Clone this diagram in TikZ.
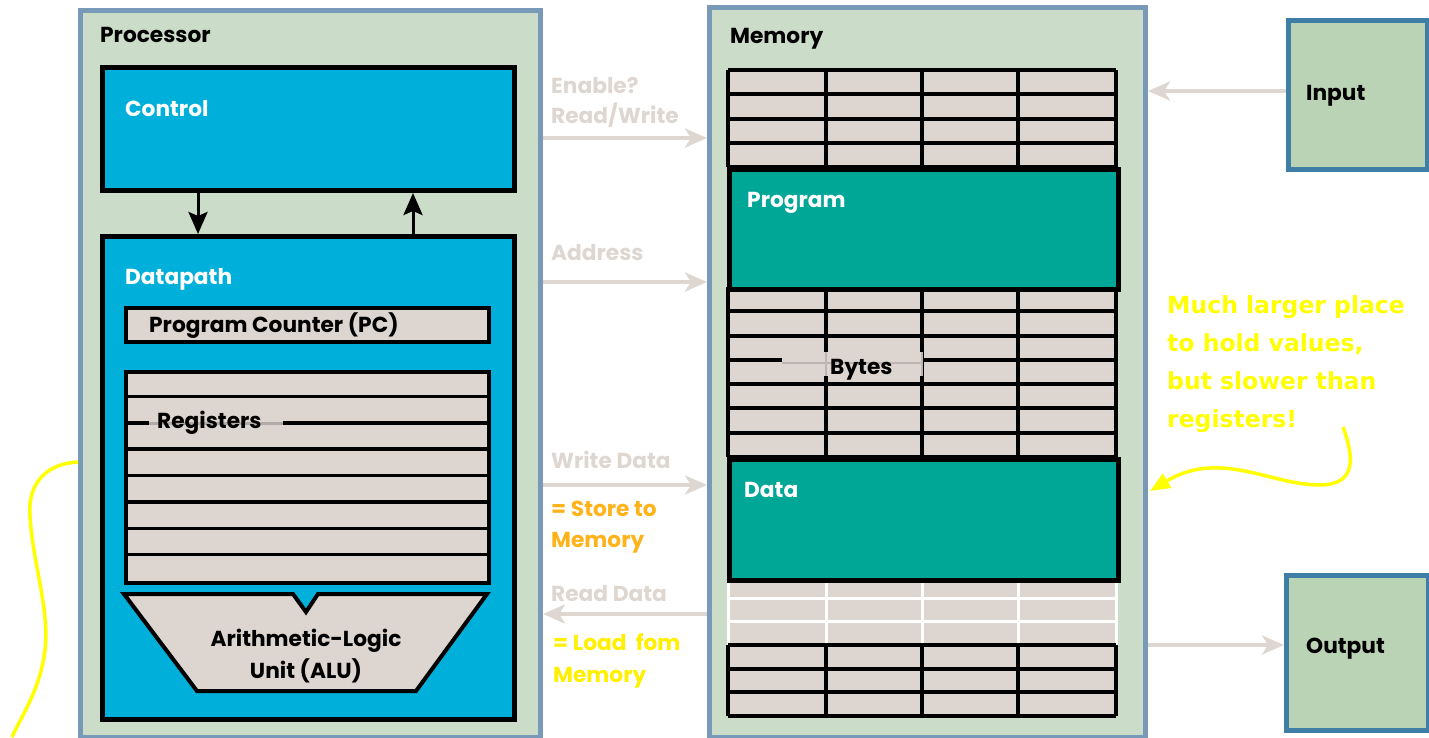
\documentclass[tikz,border=0pt]{standalone}
\usepackage{fontspec}
\setmainfont{Poppins}
\newfontfamily\notefont{DejaVu Sans}
\usetikzlibrary{arrows.meta}
\definecolor{procfill}{HTML}{CBDCC8}
\definecolor{procedge}{HTML}{7899B8}
\definecolor{ctlblue}{HTML}{00B0DA}
\definecolor{cell}{HTML}{DDD5D0}
\definecolor{teal}{HTML}{00A696}
\definecolor{iofill}{HTML}{BAD3B5}
\definecolor{ioedge}{HTML}{3F7FA6}
\definecolor{sig}{HTML}{DDD6D1}
\definecolor{storeorange}{HTML}{FFB31A}
\definecolor{loadyellow}{HTML}{FFF000}
\definecolor{noteyellow}{HTML}{FFFF00}
\newcommand\memrows[3]{%
  \fill[cell] (728,#1) rectangle (1116,#2);
  \foreach \i in {0,...,#3}
    \draw[gridline] (728,{#1+(#2-#1)*\i/#3}) -- (1116,{#1+(#2-#1)*\i/#3});
  \foreach \x in {728,826,922,1018,1116}
    \draw[gridline] (\x,#1) -- (\x,#2);
}
\begin{document}
\begin{tikzpicture}[x=1pt,y=-1pt,
  txt/.style={font=\fontsize{21.7}{25}\selectfont\bfseries, inner sep=0pt, anchor=base west},
  unit/.style={draw=procedge, fill=procfill, line width=5pt, anchor=north west, inner sep=0pt},
  blue box/.style={draw=black, fill=ctlblue, line width=5pt, anchor=north west, inner sep=0pt},
  prog box/.style={draw=black, fill=teal, line width=5pt, anchor=north west, inner sep=0pt},
  reg box/.style={draw=black, fill=cell, line width=3.5pt, anchor=north west, inner sep=0pt},
  io box/.style={draw=ioedge, fill=iofill, line width=5pt, anchor=north west, inner sep=0pt},
  gridline/.style={draw=black, line width=4pt},
  whiteline/.style={draw=white, line width=3pt},
  ctlarrow/.style={draw=black, line width=3pt, -{Stealth[length=22pt,width=19pt,inset=4pt]}},
  sigarrow/.style={draw=sig, line width=4pt, -{Stealth[length=22pt,width=19pt,inset=6pt]}},
  note/.style={draw=noteyellow, line width=3.5pt},
]
\useasboundingbox (0,0) rectangle (1429,737);

% ---------- processor ----------
\node[unit, minimum width=460, minimum height=727] (proc) at (78,8) {};
\node[txt] (proct) at (100,42) {Processor};

\node[blue box, minimum width=412, minimum height=123] (ctrl) at (100,65) {};
\node[txt, text=white] (ctrlt) at (125,116) {Control};

\node[blue box, minimum width=412, minimum height=483] (dp) at (100,234) {};
\node[txt, text=white] (dpt) at (125,284) {Datapath};

\draw[ctlarrow] ([xshift=98pt]ctrl.south west) -- ([xshift=98pt]dp.north west);
\draw[ctlarrow] ([xshift=313pt]dp.north west) -- ([xshift=313pt]ctrl.south west);

\node[reg box, minimum width=363, minimum height=34] (pc) at (124,306) {};
\node[txt] (pct) at (149,332) {Program Counter (PC)};

\node[reg box, minimum width=363, minimum height=211] (regs) at (124,370) {};
\foreach \k in {1,...,7}
  \draw[black, line width=3.5pt] (124,{370+26.375*\k}) -- (487,{370+26.375*\k});
\fill[cell] (149,419) rectangle (283,427);
\draw[cell!80!black, line width=3pt] (149,423) -- (283,423);
\node[txt] (regt) at (157,428) {Registers};

\draw[draw=black, fill=cell, line width=4pt, line join=miter]
  (124,594) -- (293,594) -- (306,612) -- (318,594) -- (487,594)
  -- (416,691) -- (197,691) -- cycle;
\node[txt, anchor=base] (alu1) at (306,646) {Arithmetic-Logic};
\node[txt, anchor=base] (alu2) at (306,678) {Unit (ALU)};

% ---------- memory ----------
\node[unit, minimum width=436, minimum height=730] (mem) at (707,5) {};
\node[txt] (memt) at (730,43) {Memory};

\memrows{70}{167}{4}
\memrows{287}{457}{7}
\memrows{645}{716}{3}
% rows shown without outlines
\fill[cell] (728,578) rectangle (1116,645);
\foreach \yy in {598,621,645}
  \draw[whiteline] (728,\yy) -- (1116,\yy);
\foreach \x in {728,826,922,1018,1116}
  \draw[whiteline] (\x,578) -- (\x,645);
\draw[gridline] (728,645) -- (1116,645);

\node[prog box, minimum width=389, minimum height=120] (prog) at (727,167) {};
\node[txt, text=white] (progt) at (747,207) {Program};

\node[prog box, minimum width=389, minimum height=121] (data) at (727,457) {};
\node[txt, text=white] (datat) at (744,497) {Data};

\fill[cell] (782,352) rectangle (923,376);
\draw[cell!85!black, line width=1.5pt] (782,363) -- (923,363);
\draw[cell!85!black, line width=1.5pt] (826,352) -- (826,376) (922,352) -- (922,376);
\node[txt] (bytest) at (830,374) {Bytes};

% ---------- input / output ----------
\node[io box, minimum width=139, minimum height=149] (in) at (1286,18) {};
\node[txt] (int) at (1306,100) {Input};
\node[io box, minimum width=142, minimum height=155] (out) at (1284,573) {};
\node[txt] (outt) at (1306,653) {Output};

\draw[sigarrow] (in.west |- 0,91) -- (mem.east |- 0,91);
\draw[sigarrow] (mem.east |- 0,645) -- (out.west |- 0,645);

% ---------- processor <-> memory signals ----------
\node[txt, text=sig] (en1) at (551,93) {Enable?};
\node[txt, text=sig] (en2) at (551,123) {Read/Write};
\draw[sigarrow] (proc.east |- 0,138) -- (mem.west |- 0,138);

\node[txt, text=sig] (addr) at (551,260) {Address};
\draw[sigarrow] (proc.east |- 0,282) -- (mem.west |- 0,282);

\node[txt, text=sig] (wd) at (551,468) {Write Data};
\draw[sigarrow] (proc.east |- 0,485) -- (mem.west |- 0,485);
\node[txt, text=storeorange] (st1) at (551,516) {= Store to};
\node[txt, text=storeorange] (st2) at (551,547) {Memory};

\node[txt, text=sig] (rd) at (551,601) {Read Data};
\draw[sigarrow] (mem.west |- 0,614) -- (proc.east |- 0,614);
\node[txt, text=loadyellow] (ld1) at (553,650) {= Load\ \ fom};
\node[txt, text=loadyellow] (ld2) at (553,682) {Memory};

% ---------- notes ----------
\begin{scope}[every node/.style={font=\notefont\fontsize{23.5}{28}\selectfont\bfseries,
    text=noteyellow, inner sep=0pt, anchor=base west}]
  \node (n1) at (1167,313) {Much larger place};
  \node (n2) at (1167,351) {to hold values,};
  \node (n3) at (1167,389) {but slower than};
  \node (n4) at (1167,427) {registers!};
\end{scope}

\draw[note, -{Triangle[length=20pt,width=16pt]}]
  (1343,427) .. controls (1358,468) and (1352,490) .. (1305,484)
  .. controls (1262,479) and (1215,452) .. (1150,491);

\draw[note] (proc.west |- 0,462) .. controls (40,464) and (28,490) .. (30,515)
  .. controls (32,560) and (50,610) .. (45,650)
  .. controls (40,690) and (22,715) .. (12,737);
\end{tikzpicture}
\end{document}
